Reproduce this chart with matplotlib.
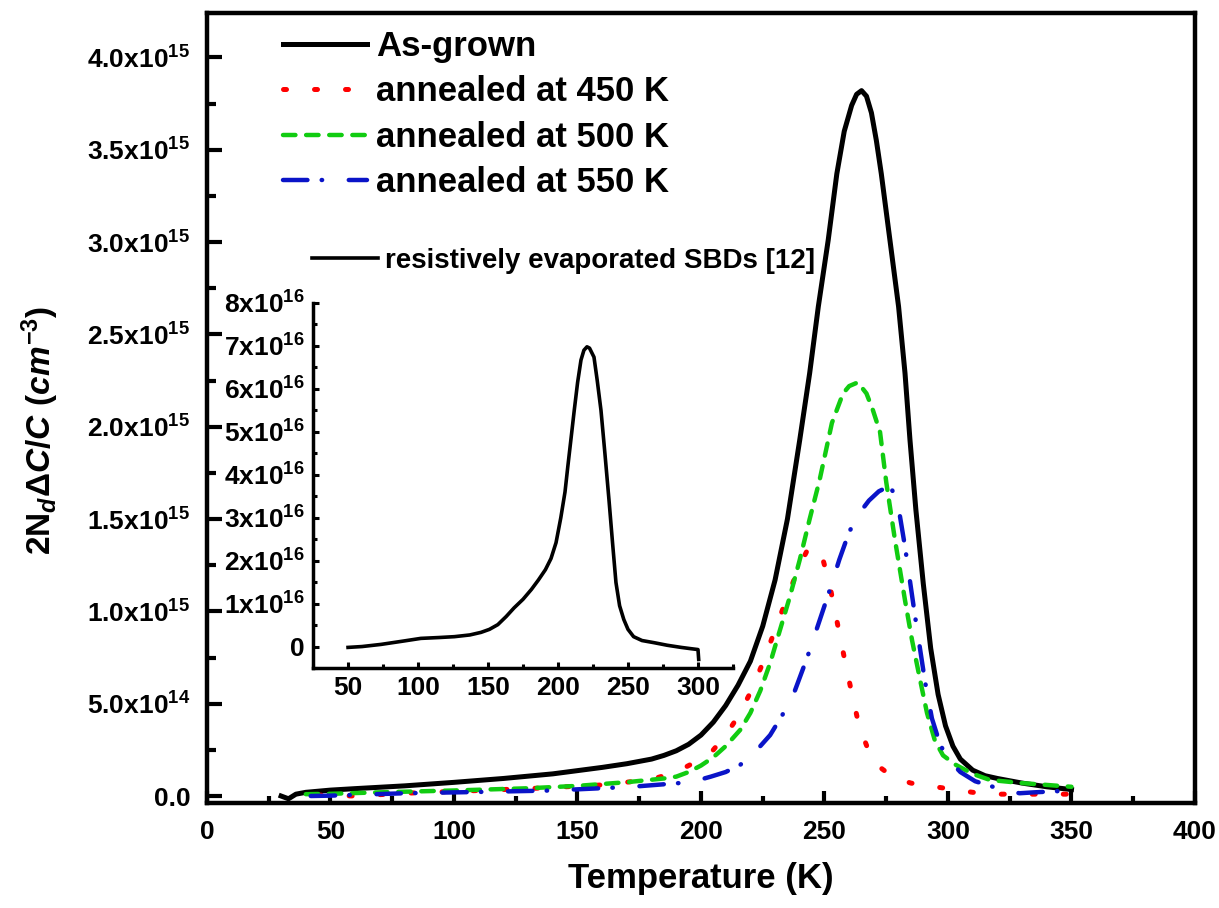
import matplotlib
matplotlib.use('Agg')
import matplotlib.pyplot as plt
from matplotlib.ticker import MultipleLocator, FixedLocator, FixedFormatter
from matplotlib import font_manager as fm

plt.rcParams['font.family'] = 'Liberation Sans'
plt.rcParams['font.weight'] = 'bold'
plt.rcParams['mathtext.fontset'] = 'custom'
plt.rcParams['mathtext.rm'] = 'Liberation Sans:bold'
plt.rcParams['mathtext.bf'] = 'Liberation Sans:bold'
plt.rcParams['mathtext.it'] = 'Liberation Sans:italic:bold'
plt.rcParams['mathtext.default'] = 'bf'

# As-grown
T_grown = [30, 33, 36, 40, 50, 60, 80, 100, 120, 140, 160, 170, 180, 185, 190,
           195, 200, 205, 210, 215, 220, 225, 230, 235, 240, 244, 247.5, 251.5,
           255, 258, 261, 263, 265, 267, 269, 271, 273, 276.5, 280, 282.6, 284.6,
           287, 290, 293, 296, 299, 302, 305, 310, 315, 320, 330, 340, 350]
N_grown = [0.0, -0.015, 0.01, 0.02, 0.032, 0.04, 0.055, 0.074, 0.095, 0.12, 0.155,
           0.175, 0.2, 0.22, 0.245, 0.28, 0.33, 0.4, 0.49, 0.6, 0.73, 0.92, 1.17,
           1.5, 1.93, 2.29, 2.65, 3.01, 3.37, 3.6, 3.74, 3.8, 3.82, 3.79, 3.7,
           3.55, 3.37, 3.01, 2.65, 2.29, 1.93, 1.55, 1.15, 0.8, 0.55, 0.38, 0.27,
           0.2, 0.14, 0.11, 0.095, 0.07, 0.05, 0.035]

# annealed at 450 K
T_450 = [45, 60, 80, 100, 130, 160, 180, 190, 200, 205, 210, 215, 220, 225, 230,
         235, 240, 243, 246, 249, 252, 255, 258, 261, 264, 268, 272, 278, 285,
         292, 300, 310, 320, 330, 340, 350]
N_450 = [0.005, 0.0, 0.015, 0.025, 0.04, 0.06, 0.09, 0.13, 0.2, 0.25, 0.33, 0.43,
         0.56, 0.72, 0.9, 1.08, 1.25, 1.33, 1.35, 1.3, 1.15, 0.95, 0.75, 0.56,
         0.38, 0.24, 0.16, 0.1, 0.07, 0.055, 0.04, 0.02, 0.01, 0.01, 0.01, 0.01]

# annealed at 500 K
T_500 = [40, 50, 70, 100, 130, 150, 170, 185, 190, 195, 200, 205, 210, 216, 220,
         224, 228, 232, 236, 240, 244, 248, 253, 257.5, 260, 263.5, 267, 269.6,
         272.5, 275, 278.5, 282.6, 285.5, 288.7, 291.5, 294.7, 298, 303, 310,
         317, 330, 340, 350]
N_500 = [0.01, 0.012, 0.02, 0.03, 0.042, 0.055, 0.075, 0.095, 0.105, 0.13, 0.165,
         0.21, 0.27, 0.36, 0.45, 0.57, 0.72, 0.9, 1.08, 1.28, 1.5, 1.71, 2.02,
         2.18, 2.22, 2.24, 2.18, 2.09, 1.97, 1.7, 1.39, 1.06, 0.84, 0.63, 0.45,
         0.3, 0.22, 0.17, 0.12, 0.087, 0.07, 0.06, 0.05]

# annealed at 550 K
T_550 = [42, 50, 80, 110, 140, 172, 193, 200, 204, 210, 216, 222, 228, 233, 238,
         243, 248, 252, 256, 260, 264, 268, 272, 276.5, 279.5, 282.6, 286.6,
         290.7, 293.5, 296.8, 300, 305, 311, 317, 323, 329, 335, 350]
N_550 = [0.0, 0.002, 0.015, 0.022, 0.03, 0.05, 0.072, 0.09, 0.105, 0.13, 0.17,
         0.24, 0.33, 0.44, 0.57, 0.75, 0.95, 1.11, 1.28, 1.43, 1.53, 1.6, 1.65,
         1.68, 1.6, 1.35, 0.98, 0.62, 0.42, 0.28, 0.2, 0.13, 0.08, 0.055, 0.03,
         0.015, 0.02, 0.03]

# inset: resistively evaporated SBDs [12] (units of 1e16)
T_ins = [50, 60, 73.6, 90, 102, 115, 126, 137, 145, 151, 157, 163, 168.6, 175,
         181, 186, 191, 195, 198.6, 202, 205, 207, 209.5, 211.6, 214, 216.4,
         218.5, 220.7, 222.5, 225.7, 228, 230.7, 233.5, 236.4, 239, 241.4, 244,
         247, 250, 254, 260, 268.6, 278, 288, 295, 300, 300.5]
N_ins = [-0.02, 0.0, 0.05, 0.13, 0.19, 0.21, 0.23, 0.27, 0.33, 0.4, 0.51, 0.7,
         0.9, 1.1, 1.33, 1.55, 1.79, 2.05, 2.42, 3.0, 3.6, 4.19, 4.9, 5.5, 6.15,
         6.67, 6.9, 6.98, 6.95, 6.74, 6.2, 5.5, 4.5, 3.42, 2.4, 1.49, 0.95,
         0.63, 0.4, 0.23, 0.14, 0.09, 0.03, -0.02, -0.05, -0.07, -0.3]

y_ticks = [0, 0.5e15, 1.0e15, 1.5e15, 2.0e15, 2.5e15, 3.0e15, 3.5e15, 4.0e15]
y_labels = ['0.0', r'$5.0x10^{14}$', r'$1.0x10^{15}$', r'$1.5x10^{15}$',
            r'$2.0x10^{15}$', r'$2.5x10^{15}$', r'$3.0x10^{15}$',
            r'$3.5x10^{15}$', r'$4.0x10^{15}$']
ins_y_ticks = [0, 1e16, 2e16, 3e16, 4e16, 5e16, 6e16, 7e16, 8e16]
ins_y_labels = ['0'] + [r'$%dx10^{16}$' % i for i in range(1, 9)]

try:
    fm.findfont('Liberation Sans Narrow', fallback_to_default=False)
    xlab_family, xlab_size = 'Liberation Sans Narrow', 30
except ValueError:
    xlab_family, xlab_size = 'Liberation Sans', 25

fig = plt.figure(figsize=(12.19, 9.08), dpi=100)
ax = fig.add_axes([0.1698, 0.1156, 0.8105, 0.870])

ax.plot(T_grown, [v * 1e15 for v in N_grown], color='black', lw=3.6,
        label='As-grown', solid_joinstyle='round')
ax.plot(T_450, [v * 1e15 for v in N_450], color='#ff0000', lw=3.6,
        linestyle=(0, (0.6, 5.6)), dash_capstyle='round', label='annealed at 450 K')
ax.plot(T_500, [v * 1e15 for v in N_500], color='#11cc11', lw=3.2,
        linestyle=(0, (2.8, 2.4)), dash_capstyle='round', label='annealed at 500 K')
ax.plot(T_550, [v * 1e15 for v in N_550], color='#0a14c8', lw=3.2,
        linestyle=(0, (5.5, 3.2, 0.1, 6)), dash_capstyle='round',
        label='annealed at 550 K')

ax.set_xlim(0, 400)
ax.set_ylim(-3.8e13, 4.24e15)
ax.xaxis.set_major_locator(MultipleLocator(50))
ax.xaxis.set_minor_locator(MultipleLocator(25))
ax.yaxis.set_major_locator(FixedLocator(y_ticks))
ax.yaxis.set_major_formatter(FixedFormatter(y_labels))
ax.yaxis.set_minor_locator(MultipleLocator(0.25e15))
for s in ax.spines.values():
    s.set_linewidth(3.2)
ax.tick_params(axis='x', which='major', direction='in', length=9, width=3,
               labelsize=19, pad=12)
ax.tick_params(axis='x', which='minor', direction='in', length=5, width=3)
ax.tick_params(axis='y', which='major', direction='in', length=11, width=3,
               labelsize=19, pad=12)
ax.tick_params(axis='y', which='minor', direction='in', length=6.5, width=3)

ax.set_xlabel('Temperature (K)', fontsize=xlab_size, fontweight='bold',
              family=xlab_family)
ax.xaxis.set_label_coords(0.5, -0.075)
ax.set_ylabel(r'$2N_{\mathit{d}}\mathit{\Delta C/C\ (cm^{-3})}$', fontsize=24)
ax.yaxis.set_label_coords(-0.148, 0.472)

fig.legend(loc='upper left', bbox_to_anchor=(0.2322, 0.967), frameon=False,
           fontsize=25, handlelength=2.43, handletextpad=0.26, labelspacing=0.36,
           borderpad=0, borderaxespad=0)

# inset
axi = fig.add_axes([0.2568, 0.2643, 0.3445, 0.402])
axi.set_facecolor('none')
axi.plot(T_ins, [v * 1e16 for v in N_ins], color='black', lw=2.6,
         label='resistively evaporated SBDs [12]', solid_joinstyle='round')
axi.set_xlim(25, 325)
axi.set_ylim(-0.5e16, 8e16)
axi.spines['top'].set_visible(False)
axi.spines['right'].set_visible(False)
axi.spines['left'].set_linewidth(2.5)
axi.spines['bottom'].set_linewidth(2.5)
axi.xaxis.set_major_locator(FixedLocator([50, 100, 150, 200, 250, 300]))
axi.xaxis.set_minor_locator(FixedLocator([25, 75, 125, 175, 225, 275, 325]))
axi.yaxis.set_major_locator(FixedLocator(ins_y_ticks))
axi.yaxis.set_major_formatter(FixedFormatter(ins_y_labels))
axi.yaxis.set_minor_locator(MultipleLocator(0.5e16))
axi.tick_params(which='major', direction='in', length=4.5, width=2.2,
                labelsize=19, pad=6)
axi.tick_params(which='minor', direction='in', length=3, width=2.2)
fig.legend(handles=axi.get_lines(), loc='upper left',
           bbox_to_anchor=(0.256, 0.7269), frameon=False, fontsize=20,
           handlelength=2.37, handletextpad=0.25, borderpad=0, borderaxespad=0)

fig.savefig('out.png', dpi=100)
